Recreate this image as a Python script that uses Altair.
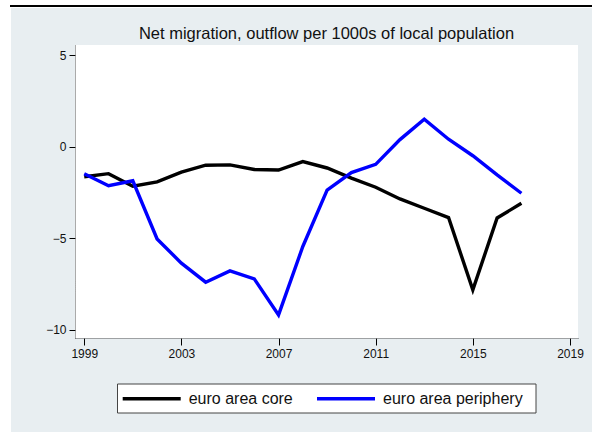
import altair as alt
import pandas as pd

# Net migration per 1000 inhabitants (negative = net outflow)
years = list(range(1999, 2018))
core = [-1.65, -1.48, -2.17, -1.93, -1.40, -1.02, -1.00, -1.25, -1.28, -0.82,
        -1.17, -1.72, -2.22, -2.86, -3.37, -3.88, -7.83, -3.90, -3.10]
periphery = [-1.48, -2.14, -1.87, -5.05, -6.37, -7.41, -6.79, -7.23, -9.20, -5.46,
             -2.38, -1.42, -0.97, 0.38, 1.50, 0.40, -0.50, -1.55, -2.55]
series_names = ["euro area core", "euro area periphery"]
series_colors = ["#000000", "#0000ff"]
x_ticks = [1999, 2003, 2007, 2011, 2015, 2019]
y_ticks = [-10, -5, 0, 5]
title_text = "Net migration, outflow per 1000s of local population"

W, H = 503, 293
PAD_L, PAD_T, PAD_R, PAD_B = 75, 45, 14, 94
BG = "#e8eef1"
FONT = "Liberation Sans"

df = pd.DataFrame({
    "year": years * 2,
    "value": core + periphery,
    "series": [series_names[0]] * len(years) + [series_names[1]] * len(years),
})
one = pd.DataFrame({"k": [0]})

x_axis = alt.Axis(values=x_ticks, format="d", title=None, grid=False,
                  domainDash=[1, 1], domainColor="#555", tickColor="#000",
                  tickSize=7, labelPadding=3, labelFontSize=12, labelColor="#111",
                  labelFont=FONT, zindex=1)
y_axis = alt.Axis(values=y_ticks, title=None, grid=False,
                  domainDash=[1, 1], domainColor="#555", tickColor="#000",
                  tickSize=6, labelPadding=3, labelFontSize=12, labelColor="#111",
                  labelFont=FONT, zindex=1)

# outer panel background and the heading rule at the top
panel = alt.Chart(one).mark_rect(color=BG).encode(
    x=alt.value(11 - PAD_L), x2=alt.value(592 - PAD_L),
    y=alt.value(8 - PAD_T), y2=alt.value(432 - PAD_T))
top_rule = alt.Chart(one).mark_rule(color="#000", strokeWidth=2).encode(
    x=alt.value(10 - PAD_L), x2=alt.value(592 - PAD_L), y=alt.value(6 - PAD_T))
plot_bg = alt.Chart(one).mark_rect(color="white").encode(
    x=alt.value(0), x2=alt.value(W), y=alt.value(0), y2=alt.value(H))

lines = alt.Chart(df).mark_line(strokeWidth=3.4, clip=True).encode(
    x=alt.X("year:Q", scale=alt.Scale(domain=[1998.62, 2019.33], nice=False, zero=False),
            axis=x_axis),
    y=alt.Y("value:Q", scale=alt.Scale(domain=[-10.46, 5.55], nice=False, zero=False),
            axis=y_axis),
    color=alt.Color("series:N", scale=alt.Scale(domain=series_names, range=series_colors),
                    legend=None),
)

title = alt.Chart(one).mark_text(text=title_text, font=FONT, fontSize=16.5,
                                 color="#111", align="center", baseline="alphabetic").encode(
    x=alt.value(W / 2), y=alt.value(39 - PAD_T))

# legend box below the plot
legend_box = alt.Chart(one).mark_rect(fill="white", stroke="#444", strokeWidth=1).encode(
    x=alt.value(117.5 - PAD_L), x2=alt.value(536 - PAD_L),
    y=alt.value(384 - PAD_T), y2=alt.value(413 - PAD_T))
legend_layers = []
legend_y = 398.7 - PAD_T
for name, col, x0 in zip(series_names, series_colors, [122.7, 317.0]):
    legend_layers.append(
        alt.Chart(one).mark_rule(color=col, strokeWidth=3.4).encode(
            x=alt.value(x0 - PAD_L), x2=alt.value(x0 + 58 - PAD_L), y=alt.value(legend_y)))
    legend_layers.append(
        alt.Chart(one).mark_text(text=name, font=FONT, fontSize=16, color="#111",
                                 align="left", baseline="middle").encode(
            x=alt.value(x0 + 66 - PAD_L), y=alt.value(legend_y)))

chart = alt.layer(panel, top_rule, plot_bg, lines, title, legend_box, *legend_layers).properties(
    width=W, height=H,
    padding={"left": PAD_L, "top": PAD_T, "right": PAD_R, "bottom": PAD_B},
    autosize=alt.AutoSizeParams(type="none"),
    background="white",
).configure_view(stroke=None)

chart.save("out.html", embed_options={"renderer": "svg", "actions": False})
